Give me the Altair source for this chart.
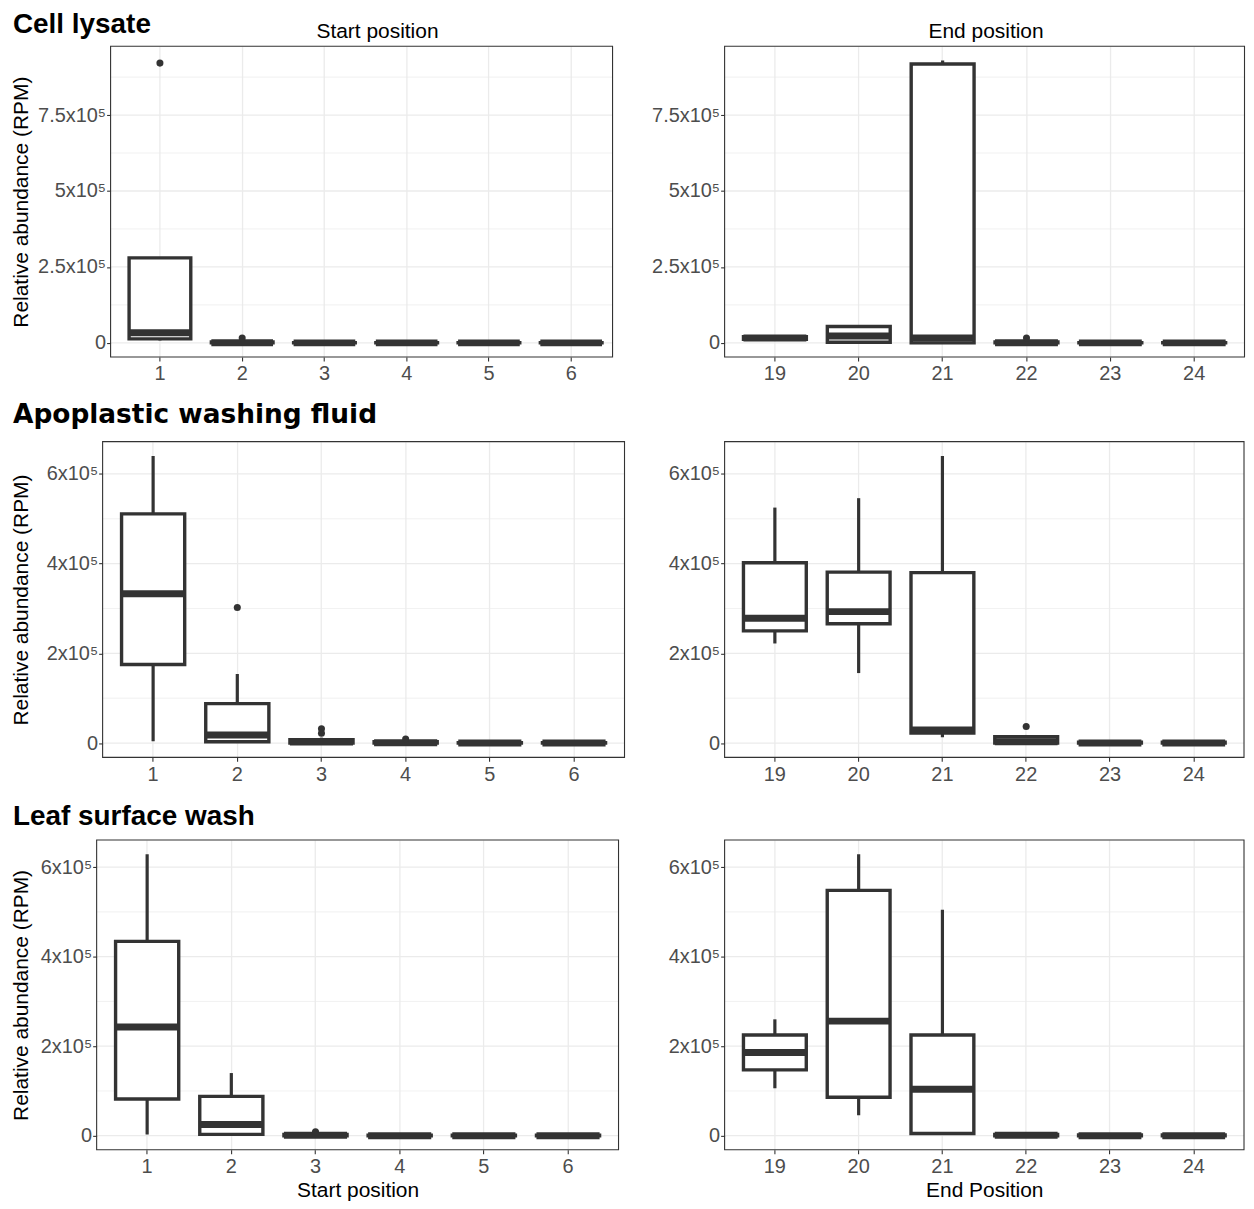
import altair as alt
import pandas as pd

FONT = "Liberation Sans"
DARK = "#333333"
GRID = "#EBEBEB"

start_positions = ["1", "2", "3", "4", "5", "6"]
end_positions = ["19", "20", "21", "22", "23", "24"]

# ---------------- Cell lysate ----------------
cell_start_lo = [8e3, 0, 0, 0, 0, 0]
cell_start_q1 = [1.3e4, 0, 0, 0, 0, 0]
cell_start_med = [3.3e4, 5e2, 0, 0, 0, 0]
cell_start_q3 = [2.8e5, 3e3, 1e3, 1e3, 1e3, 1e3]
cell_start_hi = [2.8e5, 6e3, 3e3, 2e3, 2e3, 2e3]
cell_start_out_pos = ["1", "2"]
cell_start_out_val = [9.21e5, 1.6e4]

cell_end_lo = [1.0e4, 0, 0, 0, 0, 0]
cell_end_q1 = [1.2e4, 2e3, 0, 0, 0, 0]
cell_end_med = [1.6e4, 2.3e4, 1.6e4, 5e2, 0, 0]
cell_end_q3 = [2.0e4, 5.4e4, 9.18e5, 3e3, 1e3, 1e3]
cell_end_hi = [2.3e4, 5.6e4, 9.3e5, 6e3, 2e3, 2e3]
cell_end_out_pos = ["22"]
cell_end_out_val = [1.6e4]

# ---------------- Apoplastic washing fluid ----------------
apo_start_lo = [4e3, 0, 0, 0, 0, 0]
apo_start_q1 = [1.75e5, 3e3, 0, 0, 0, 0]
apo_start_med = [3.33e5, 1.8e4, 2e3, 5e2, 0, 0]
apo_start_q3 = [5.11e5, 8.8e4, 7.7e3, 3e3, 1e3, 1e3]
apo_start_hi = [6.4e5, 1.54e5, 1.2e4, 6e3, 2e3, 2e3]
apo_start_out_pos = ["2", "3", "3", "4"]
apo_start_out_val = [3.02e5, 3.2e4, 2.2e4, 9e3]

apo_end_lo = [2.22e5, 1.56e5, 1.3e4, 0, 0, 0]
apo_end_q1 = [2.5e5, 2.66e5, 2.2e4, 0, 0, 0]
apo_end_med = [2.78e5, 2.93e5, 2.9e4, 3e3, 0, 0]
apo_end_q3 = [4.02e5, 3.81e5, 3.8e5, 1.4e4, 2e3, 2e3]
apo_end_hi = [5.25e5, 5.46e5, 6.4e5, 1.8e4, 4e3, 3e3]
apo_end_out_pos = ["22"]
apo_end_out_val = [3.7e4]

# ---------------- Leaf surface wash ----------------
leaf_start_lo = [3e3, 0, 0, 0, 0, 0]
leaf_start_q1 = [8.2e4, 3e3, 0, 0, 0, 0]
leaf_start_med = [2.43e5, 2.5e4, 1e3, 0, 0, 0]
leaf_start_q3 = [4.34e5, 8.8e4, 3e3, 1e3, 1e3, 1e3]
leaf_start_hi = [6.29e5, 1.4e5, 5e3, 2e3, 2e3, 2e3]
leaf_start_out_pos = ["3"]
leaf_start_out_val = [9e3]

leaf_end_lo = [1.06e5, 4.6e4, 4e3, 0, 0, 0]
leaf_end_q1 = [1.47e5, 8.6e4, 5e3, 0, 0, 0]
leaf_end_med = [1.86e5, 2.56e5, 1.04e5, 1e3, 0, 0]
leaf_end_q3 = [2.25e5, 5.48e5, 2.25e5, 3e3, 2e3, 2e3]
leaf_end_hi = [2.6e5, 6.29e5, 5.05e5, 5e3, 5e3, 4e3]
leaf_end_out_pos = []
leaf_end_out_val = []

# axis ticks
ticks_cell = [0, 2.5e5, 5e5, 7.5e5]
minor_cell = [1.25e5, 3.75e5, 6.25e5, 8.75e5]
ticks_other = [0, 2e5, 4e5, 6e5]
minor_other = [1e5, 3e5, 5e5]

Y_TITLE = "Relative abundance (RPM)"
LABEL_EXPR = "datum.value == 0 ? '0' : (datum.value / 100000) + 'x10\u2075'"

P_INNER = 0.25
P_OUTER = 0.225


def row_domain(*lists):
    vals = [v for lst in lists for v in lst]
    lo, hi = min(vals), max(vals)
    span = hi - lo
    return [lo - 0.05 * span, hi + 0.05 * span]


def make_panel(cats, lo, q1, med, q3, hi, out_pos, out_val, width, height,
               domain, ticks, minor, y_extent, x_extent, range_width=None, shift=0,
               y_title=None, title=None, title_dx=0, x_title=None, x_title_pad=7):
    n = len(cats)
    rw = range_width if range_width else width
    step = rw / (n - P_INNER + 2 * P_OUTER)
    band = (1 - P_INNER) * step

    box_df = pd.DataFrame({"pos": cats, "lo": lo, "q1": q1, "med": med,
                           "q3": q3, "hi": hi})
    xscale = alt.Scale(domain=cats, paddingInner=P_INNER, paddingOuter=P_OUTER,
                       range=[shift, shift + rw])
    yscale = alt.Scale(domain=domain, nice=False, zero=False)

    xaxis_kw = dict(labelAngle=0, grid=True, bandPosition=0.5, labelPadding=3,
                    minExtent=x_extent, maxExtent=x_extent, titlePadding=x_title_pad)
    xaxis_kw["title"] = x_title if x_title else ""
    yaxis_kw = dict(values=ticks, labelExpr=LABEL_EXPR, grid=False, labelPadding=1,
                    minExtent=y_extent, maxExtent=y_extent, titlePadding=7,
                    offset=-shift)
    yaxis_kw["title"] = y_title if y_title else ""
    xaxis = alt.Axis(**xaxis_kw)
    yaxis = alt.Axis(**yaxis_kw)

    xenc = alt.X("pos:N", scale=xscale, axis=xaxis, sort=cats)
    gx = dict(x=alt.value(shift), x2=alt.value(shift + width))

    minor_rules = alt.Chart(pd.DataFrame({"v": minor})).mark_rule(
        color=GRID, strokeWidth=0.7
    ).encode(y=alt.Y("v:Q", scale=yscale, axis=yaxis), **gx)
    major_rules = alt.Chart(pd.DataFrame({"v": ticks})).mark_rule(
        color=GRID, strokeWidth=1.3
    ).encode(y=alt.Y("v:Q", scale=yscale, axis=yaxis), **gx)

    base = alt.Chart(box_df)
    whisk = base.mark_rule(color=DARK, strokeWidth=3.2).encode(
        x=xenc, y=alt.Y("lo:Q", scale=yscale, axis=yaxis), y2="hi:Q")
    box = base.mark_bar(fill="white", stroke=DARK, strokeWidth=3.4).encode(
        x=xenc, y=alt.Y("q1:Q", scale=yscale, axis=yaxis), y2="q3:Q")
    median = base.mark_tick(color=DARK, thickness=7, size=band,
                            orient="horizontal", opacity=1).encode(
        x=xenc, y=alt.Y("med:Q", scale=yscale, axis=yaxis))
    layers = [minor_rules, major_rules, whisk, box, median]
    if out_pos:
        out_df = pd.DataFrame({"pos": out_pos, "val": out_val})
        pts = alt.Chart(out_df).mark_circle(color=DARK, opacity=1, size=50).encode(
            x=xenc, y=alt.Y("val:Q", scale=yscale, axis=yaxis))
        layers.append(pts)
    frame = alt.Chart(pd.DataFrame({"f": [0]})).mark_rect(
        filled=False, stroke=DARK, strokeWidth=1.1
    ).encode(y=alt.value(0), y2=alt.value(height), **gx)
    layers.append(frame)
    props = dict(width=shift + width, height=height)
    if title:
        props["title"] = alt.TitleParams(text=title, fontSize=21, fontWeight="normal",
                                         color="black", offset=4, anchor="middle",
                                         dx=title_dx)
    return alt.layer(*layers).properties(**props)


dom_cell = row_domain(cell_start_lo, cell_start_hi, cell_start_out_val,
                      cell_end_lo, cell_end_hi, cell_end_out_val)
dom_apo = row_domain(apo_start_lo, apo_start_hi, apo_start_out_val,
                     apo_end_lo, apo_end_hi, apo_end_out_val)
dom_leaf = row_domain(leaf_start_lo, leaf_start_hi, leaf_start_out_val,
                      leaf_end_lo, leaf_end_hi, leaf_end_out_val)

r1l = make_panel(start_positions, cell_start_lo, cell_start_q1, cell_start_med,
                 cell_start_q3, cell_start_hi, cell_start_out_pos, cell_start_out_val,
                 504, 312, dom_cell, ticks_cell, minor_cell, 72, 24, range_width=512,
                 shift=14, y_title=Y_TITLE, title="Start position", title_dx=23)
r1r = make_panel(end_positions, cell_end_lo, cell_end_q1, cell_end_med,
                 cell_end_q3, cell_end_hi, cell_end_out_pos, cell_end_out_val,
                 522, 312, dom_cell, ticks_cell, minor_cell, 78, 24,
                 title="End position", title_dx=1.5)
r2l = make_panel(start_positions, apo_start_lo, apo_start_q1, apo_start_med,
                 apo_start_q3, apo_start_hi, apo_start_out_pos, apo_start_out_val,
                 524, 317, dom_apo, ticks_other, minor_other, 64, 28, shift=6,
                 y_title=Y_TITLE)
r2r = make_panel(end_positions, apo_end_lo, apo_end_q1, apo_end_med,
                 apo_end_q3, apo_end_hi, apo_end_out_pos, apo_end_out_val,
                 521.5, 317, dom_apo, ticks_other, minor_other, 62, 28)
r3l = make_panel(start_positions, leaf_start_lo, leaf_start_q1, leaf_start_med,
                 leaf_start_q3, leaf_start_hi, leaf_start_out_pos, leaf_start_out_val,
                 524, 311, dom_leaf, ticks_other, minor_other, 58, 30,
                 y_title=Y_TITLE, x_title="Start position", x_title_pad=0)
r3r = make_panel(end_positions, leaf_end_lo, leaf_end_q1, leaf_end_med,
                 leaf_end_q3, leaf_end_hi, leaf_end_out_pos, leaf_end_out_val,
                 521.5, 311, dom_leaf, ticks_other, minor_other, 62, 30,
                 x_title="End Position", x_title_pad=0)


def row_title(text, offset, font=FONT, size=28):
    return alt.TitleParams(text=text, anchor="start", fontSize=size, fontWeight="bold",
                           color="black", offset=offset, font=font, dx=2)


row1 = alt.hconcat(r1l, r1r, spacing=33.5, title=row_title("Cell lysate", -18))
row2 = alt.hconcat(r2l, r2r, spacing=37.5,
                   title=row_title("Apoplastic washing fluid", 13, "DejaVu Sans", 26.5))
row3 = alt.hconcat(r3l, r3r, spacing=43.5, title=row_title("Leaf surface wash", 9))

chart = alt.vconcat(row1, row2, row3, spacing=17).properties(
    padding={"left": 3, "top": 0, "right": 0, "bottom": 0}
).configure(font=FONT).configure_view(
    stroke="transparent", strokeWidth=0
).configure_axis(
    labelFont=FONT, titleFont=FONT, labelFontSize=20, labelColor="#4D4D4D",
    titleFontSize=21, titleColor="black", titleFontWeight="normal",
    tickColor=DARK, tickSize=4, tickWidth=1.1, gridColor=GRID, gridWidth=1.3,
    domain=False
).configure_title(font=FONT, color="black")

chart.save("out.html", embed_options={"renderer": "svg", "actions": False})
